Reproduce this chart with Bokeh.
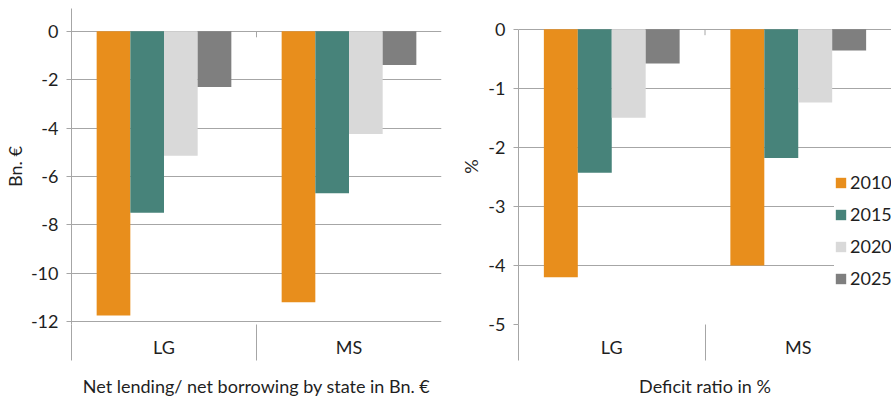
from bokeh.plotting import figure
from bokeh.models import (ColumnDataSource, Range1d, LinearAxis, FixedTicker,
                          Legend, LegendItem)
from bokeh.transform import dodge
from bokeh.layouts import row
from bokeh.embed import file_html
from bokeh.resources import INLINE

# Categories and series
states = ["LG", "MS"]
years = ["2010", "2015", "2020", "2025"]

# Net lending / net borrowing by state, bn EUR
lending_2010 = [-11.75, -11.2]
lending_2015 = [-7.5, -6.7]
lending_2020 = [-5.15, -4.25]
lending_2025 = [-2.3, -1.4]

# Deficit ratio, percent
deficit_2010 = [-4.2, -4.0]
deficit_2015 = [-2.43, -2.18]
deficit_2020 = [-1.5, -1.24]
deficit_2025 = [-0.58, -0.36]

lending_ticks = [0, -2, -4, -6, -8, -10, -12]
deficit_ticks = [0, -1, -2, -3, -4, -5]

COLORS = ["#E88E1C", "#47837A", "#D9D9D9", "#7F7F7F"]
GRID = "#A6A6A6"
TEXT = "#1f1f1f"
FONT = "Lato"
FS = "18px"

BAR_W = 0.182
OFFSETS = [-1.5 * BAR_W, -0.5 * BAR_W, 0.5 * BAR_W, 1.5 * BAR_W]


def make_panel(series, y_lo, y_hi, ticks, y_label, title, width,
               border_right, tick_depth, y_label_standoff, axis_top):
    n = len(states)
    centers = [i + 0.5 for i in range(n)]   # one slot per state
    data = dict(state=states, slot=centers)
    for yr, vals in zip(years, series):
        data[yr] = vals
    src = ColumnDataSource(data=data)

    p = figure(x_range=Range1d(0, n), y_range=Range1d(y_lo, y_hi),
               width=width, height=399, output_backend="svg",
               toolbar_location=None, x_axis_type=None,
               min_border_left=68, min_border_right=border_right,
               min_border_top=8, min_border_bottom=72)
    p.outline_line_color = None
    p.background_fill_color = "white"
    p.border_fill_color = "white"

    renderers = []
    for yr, off, col in zip(years, OFFSETS, COLORS):
        r = p.vbar(x=dodge("slot", off), top=0, bottom=yr,
                   width=BAR_W, source=src, fill_color=col, line_color=None)
        renderers.append(r)

    # value axis (plain hyphen minus signs)
    yax = p.yaxis[0]
    yax.ticker = FixedTicker(ticks=ticks, minor_ticks=[])
    yax.major_label_overrides = {t: str(t) for t in ticks}
    yax.bounds = (y_lo, axis_top)
    yax.axis_line_color = GRID
    yax.major_tick_line_color = GRID
    yax.major_tick_out = 5
    yax.major_tick_in = 0
    yax.minor_tick_out = 0
    yax.minor_tick_in = 0
    yax.major_label_standoff = 8
    yax.major_label_text_font = FONT
    yax.major_label_text_font_size = FS
    yax.major_label_text_color = TEXT
    yax.axis_label = y_label
    yax.axis_label_text_font = FONT
    yax.axis_label_text_font_size = FS
    yax.axis_label_text_font_style = "normal"
    yax.axis_label_text_color = TEXT
    yax.axis_label_standoff = y_label_standoff

    p.ygrid.ticker = FixedTicker(ticks=ticks, minor_ticks=[])
    p.ygrid.grid_line_color = GRID
    p.xgrid.visible = False

    # category labels with divider lines at the slot edges
    cats = LinearAxis(ticker=FixedTicker(ticks=centers, minor_ticks=list(range(0, n))),
                      major_label_overrides={c: s for c, s in zip(centers, states)},
                      axis_line_color=None, major_tick_out=0, major_tick_in=0,
                      minor_tick_in=0, minor_tick_out=36, minor_tick_line_color=GRID,
                      major_label_standoff=-25, major_label_text_font=FONT,
                      major_label_text_font_size=FS, major_label_text_color=TEXT,
                      axis_label=title, axis_label_text_font=FONT,
                      axis_label_text_font_size=FS, axis_label_text_font_style="normal",
                      axis_label_text_color=TEXT, axis_label_standoff=14)
    p.add_layout(cats, "below")

    # small category tick marks on the zero line
    b = list(range(1, n))
    p.segment(x0=b, x1=b, y0=[0] * len(b), y1=[-tick_depth] * len(b),
              line_color=GRID, line_width=1)

    return p, renderers


left, _ = make_panel([lending_2010, lending_2015, lending_2020, lending_2025],
                     -12.12, 0.94, lending_ticks, "Bn. €",
                     "Net lending/ net borrowing by state in Bn. €",
                     width=450, border_right=9, tick_depth=0.25,
                     y_label_standoff=2, axis_top=0.94)

right, rr = make_panel([deficit_2010, deficit_2015, deficit_2020, deficit_2025],
                       -5.0, 0.352, deficit_ticks, "%", "Deficit ratio in %",
                       width=441, border_right=0, tick_depth=0.1,
                       y_label_standoff=3, axis_top=0)

legend = Legend(items=[LegendItem(label=yr, renderers=[r]) for yr, r in zip(years, rr)],
                location=(316, 35), orientation="vertical", padding=16, spacing=10,
                margin=0, glyph_width=13, glyph_height=13, label_standoff=3,
                label_height=20, label_text_font=FONT, label_text_font_size=FS,
                label_text_color=TEXT, background_fill_color="white",
                background_fill_alpha=1.0, border_line_color=None)
right.add_layout(legend, "center")

layout = row(left, right)
open("out.html", "w").write(file_html(layout, INLINE))
